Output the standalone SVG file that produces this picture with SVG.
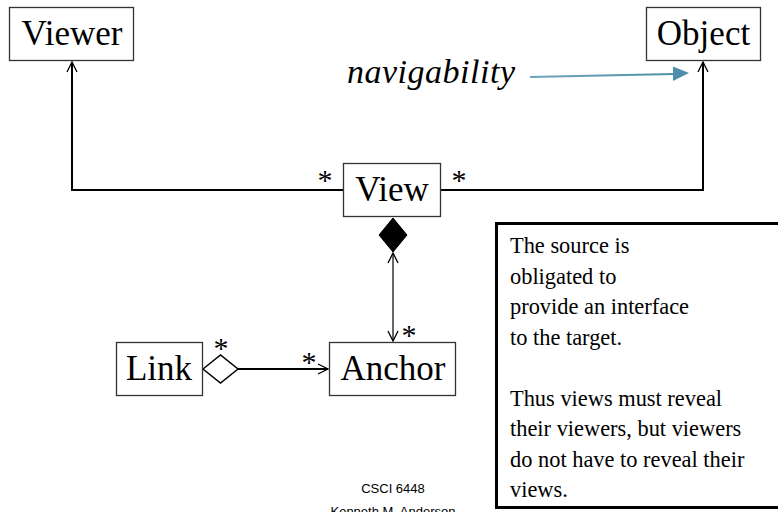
<svg xmlns="http://www.w3.org/2000/svg" width="778" height="512" viewBox="0 0 778 512">
  <style>
    .box { fill: #fff; stroke: #333; stroke-width: 1.3; }
    .name { font-family: "Liberation Serif", "Times New Roman", serif; font-size: 35px; fill: #000; text-anchor: middle; }
    .mult { font-family: "Liberation Serif", "Times New Roman", serif; font-size: 30px; fill: #000; text-anchor: middle; }
    .edge { fill: none; stroke: #000; }
    .note { font-family: "Liberation Serif", "Times New Roman", serif; font-size: 22.4px; fill: #000; }
    .foot { font-family: "Liberation Sans", Arial, sans-serif; font-size: 13px; fill: #000; text-anchor: middle; }
  </style>
  <defs>
    <marker id="open" viewBox="-11 -6 12 12" refX="0" refY="0" markerWidth="12" markerHeight="12" markerUnits="userSpaceOnUse" orient="auto-start-reverse">
      <path d="M-10,-5 L0,0 L-10,5" fill="none" stroke="#000" stroke-width="1.3"/>
    </marker>
    <linearGradient id="navGrad" x1="0" y1="0" x2="1" y2="0">
      <stop offset="0" stop-color="#6fa3ba"/>
      <stop offset="1" stop-color="#4f8fa9"/>
    </linearGradient>
  </defs>

  <rect width="778" height="512" fill="#fff"/>

  <!-- connectors -->
  <g id="connectors">
    <path class="edge" d="M343,190 H72 V62" stroke-width="2" marker-end="url(#open)"/>
    <path class="edge" d="M441,190 H703 V62" stroke-width="2" marker-end="url(#open)"/>
    <line class="edge" x1="393" y1="253" x2="393" y2="341" stroke-width="1.2" marker-start="url(#open)" marker-end="url(#open)"/>
    <polygon points="393,218 407,235 393,252 379,235" fill="#000" stroke="#000" stroke-width="1"/>
    <line class="edge" x1="238" y1="369" x2="328" y2="369" stroke-width="2" marker-end="url(#open)"/>
    <polygon points="203,369 220.5,355 238,369 220.5,383" fill="#fff" stroke="#000" stroke-width="1.5"/>
    <!-- navigability pointer -->
    <line x1="530" y1="77" x2="674" y2="74" stroke="url(#navGrad)" stroke-width="2"/>
    <polygon points="673,66.5 689,73 673,81" fill="#4f8fa9"/>
    <text x="347" y="83" font-family="Liberation Serif, 'Times New Roman', serif" font-style="italic" font-size="34" textLength="168" lengthAdjust="spacing">navigability</text>
  </g>

  <!-- multiplicities -->
  <g id="multiplicities">
    <text class="mult" x="325" y="190">*</text>
    <text class="mult" x="459" y="190">*</text>
    <text class="mult" x="409" y="345">*</text>
    <text class="mult" x="221" y="358">*</text>
    <text class="mult" x="309" y="372">*</text>
  </g>

  <g id="viewer">
    <rect class="box" x="9.5" y="7.5" width="124" height="53"/>
    <text class="name" x="72" y="45">Viewer</text>
  </g>
  <g id="object">
    <rect class="box" x="646.5" y="7.5" width="114" height="53"/>
    <text class="name" x="703.5" y="45">Object</text>
  </g>
  <g id="view">
    <rect class="box" x="343.5" y="163.5" width="97" height="53"/>
    <text class="name" x="392" y="201">View</text>
  </g>
  <g id="link">
    <rect class="box" x="116.5" y="342.5" width="86" height="53"/>
    <text class="name" x="159" y="380">Link</text>
  </g>
  <g id="anchor">
    <rect class="box" x="329.5" y="342.5" width="126" height="53"/>
    <text class="name" x="393" y="380">Anchor</text>
  </g>

  <!-- explanatory note -->
  <g id="note">
    <rect x="496.5" y="223.5" width="300" height="284" fill="#fff" stroke="#000" stroke-width="3"/>
    <text class="note" x="510" y="253">The source is</text>
    <text class="note" x="510" y="283.5">obligated to</text>
    <text class="note" x="510" y="314">provide an interface</text>
    <text class="note" x="510" y="344.5">to the target.</text>
    <text class="note" x="510" y="405.5">Thus views must reveal</text>
    <text class="note" x="510" y="436">their viewers, but viewers</text>
    <text class="note" x="510" y="466.5">do not have to reveal their</text>
    <text class="note" x="510" y="497">views.</text>
  </g>

  <g id="footer">
    <text class="foot" x="393" y="493">CSCI 6448</text>
    <text class="foot" x="393" y="516">Kenneth M. Anderson</text>
  </g>
</svg>
